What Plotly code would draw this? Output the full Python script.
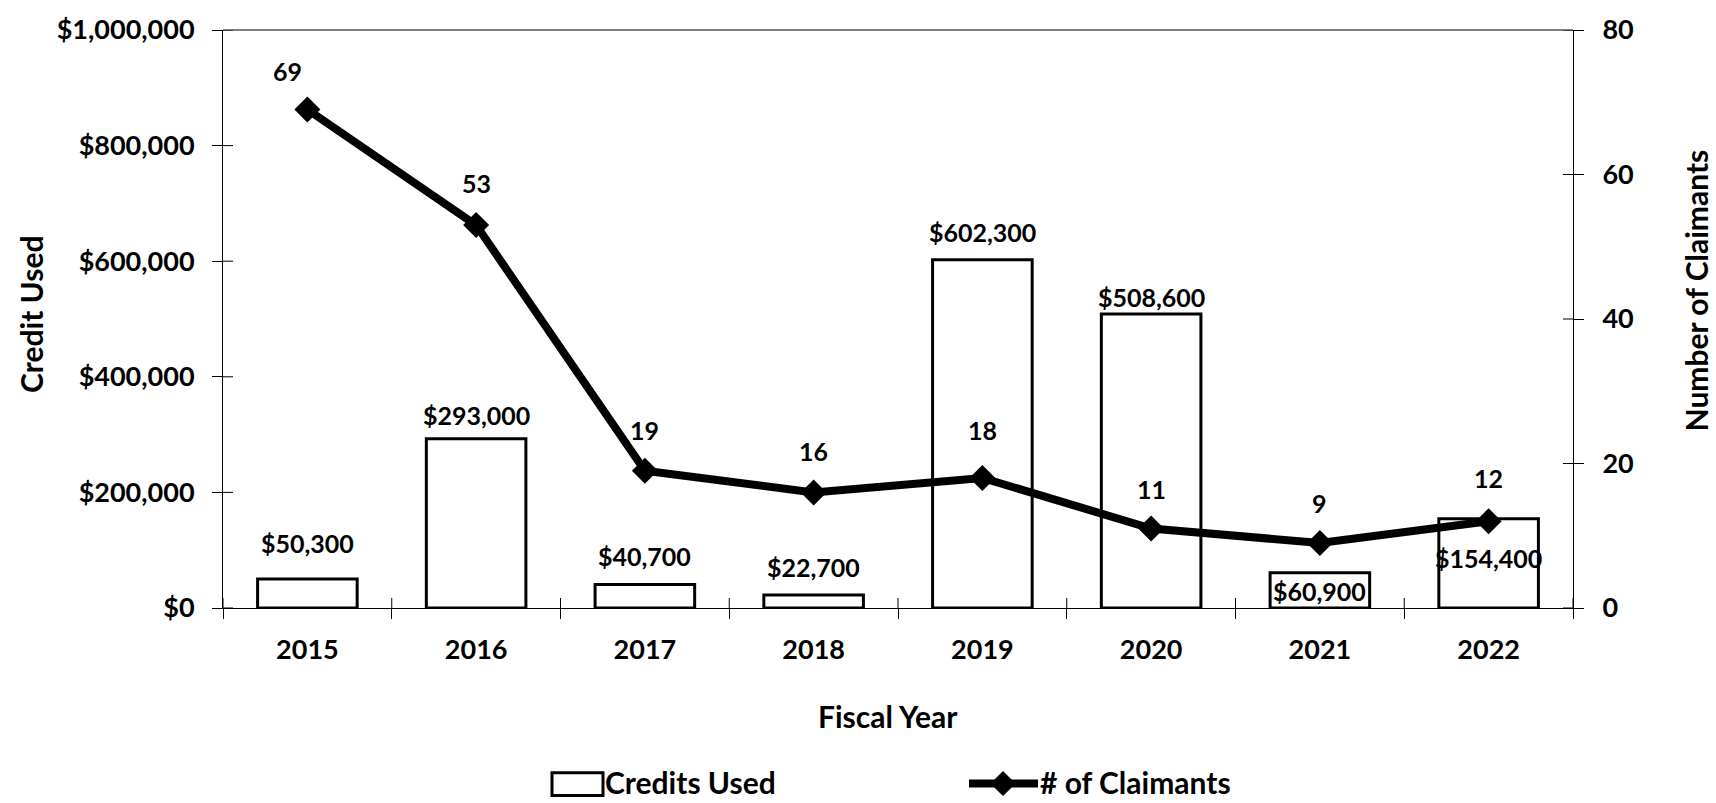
import plotly.graph_objects as go

# Fiscal-year data
years = ["2015", "2016", "2017", "2018", "2019", "2020", "2021", "2022"]
credits_used = [50300, 293000, 40700, 22700, 602300, 508600, 60900, 154400]
claimants = [69, 53, 19, 16, 18, 11, 9, 12]

credit_ticks = [0, 200000, 400000, 600000, 800000, 1000000]
credit_tick_text = ["$0", "$200,000", "$400,000", "$600,000", "$800,000", "$1,000,000"]
claimant_ticks = [0, 20, 40, 60, 80]

# label placement tweaks (pixels above the data point)
credit_label_shift = [36, 24, 28, 28, 28, 17, -18, -39]
claimant_label_shift = [38, 42, 41, 41, 48, 40, 40, 43]
claimant_label_xshift = [-20, 0, 0, 0, 0, 0, 0, 0]

FONT = "Lato"
BLACK = "#000000"

fig = go.Figure()

fig.add_trace(go.Bar(
    x=years, y=credits_used, name="Credits Used",
    width=0.59,
    marker=dict(color="white", line=dict(color=BLACK, width=3)),
    showlegend=False, yaxis="y",
))

fig.add_trace(go.Scatter(
    x=years, y=claimants, name="# of Claimants",
    mode="lines+markers",
    line=dict(color=BLACK, width=8),
    marker=dict(symbol="diamond", size=20, color=BLACK),
    showlegend=False, yaxis="y2",
))

label_font = dict(family=FONT, size=25, color=BLACK, weight="bold")
annotations = []
for i, (v, dy) in enumerate(zip(credits_used, credit_label_shift)):
    annotations.append(dict(
        x=i, y=v, xref="x", yref="y", text=f"${v:,}", showarrow=False,
        yshift=dy, yanchor="middle", font=label_font,
    ))
for i, (v, dy, dx) in enumerate(zip(claimants, claimant_label_shift, claimant_label_xshift)):
    annotations.append(dict(
        x=i, y=v, xref="x", yref="y2", text=str(v), showarrow=False,
        yshift=dy, xshift=dx, yanchor="middle", font=label_font,
    ))


def px_x(p):
    return (p - 223) / 1350


def px_y(p):
    return (608 - p) / 586


title_font = dict(family=FONT, size=30, color=BLACK, weight="bold")
annotations += [
    dict(text="Credit Used", textangle=-90, x=px_x(31), y=px_y(310),
         xref="paper", yref="paper", showarrow=False, font=title_font,
         xanchor="center", yanchor="middle"),
    dict(text="Number of Claimants", textangle=-90, x=px_x(1696),
         y=px_y(286), xref="paper", yref="paper", showarrow=False,
         font=title_font, xanchor="center", yanchor="middle"),
    dict(text="Fiscal Year", x=px_x(888), y=px_y(718),
         xref="paper", yref="paper", showarrow=False, font=title_font,
         xanchor="center", yanchor="middle"),
]

# legend drawn by hand
legend_font = dict(family=FONT, size=30, color=BLACK, weight="bold")
annotations += [
    dict(text="Credits Used", x=px_x(604), y=px_y(784), xref="paper", yref="paper",
         showarrow=False, xanchor="left", yanchor="middle", font=legend_font,
         borderpad=0),
    dict(text="# of Claimants", x=px_x(1039), y=px_y(784), xref="paper", yref="paper",
         showarrow=False, xanchor="left", yanchor="middle", font=legend_font,
         borderpad=0),
]

shapes = [
    # top border of plot area
    dict(type="line", xref="paper", yref="paper", x0=0, x1=1, y0=1, y1=1,
         line=dict(color="#808080", width=2), layer="above"),
    # legend swatches
    dict(type="rect", xref="paper", yref="paper", x0=px_x(552), x1=px_x(603),
         y0=px_y(798), y1=px_y(775), line=dict(color=BLACK, width=3),
         fillcolor="white"),
    dict(type="line", xref="paper", yref="paper", x0=px_x(969), x1=px_x(1038),
         y0=px_y(786), y1=px_y(786), line=dict(color=BLACK, width=8)),
    dict(type="path", xref="paper", yref="paper", xsizemode="pixel",
         ysizemode="pixel", xanchor=px_x(1003), yanchor=px_y(786),
         path="M -12 0 L 0 12 L 12 0 L 0 -12 Z", fillcolor=BLACK,
         line=dict(color=BLACK, width=1)),
]

# inner halves of the crossing tick marks
for t in credit_ticks:
    shapes.append(dict(type="line", xref="paper", yref="y", xsizemode="pixel",
                       xanchor=0, x0=0, x1=10, y0=t, y1=t,
                       line=dict(color=BLACK, width=1)))
for t in claimant_ticks:
    shapes.append(dict(type="line", xref="paper", yref="y2", xsizemode="pixel",
                       xanchor=1, x0=-10, x1=0, y0=t, y1=t,
                       line=dict(color=BLACK, width=1)))
for i in range(len(years) + 1):
    b = i - 0.5
    shapes.append(dict(type="line", xref="x", yref="paper", ysizemode="pixel",
                       yanchor=0, y0=0, y1=10, x0=b, x1=b,
                       line=dict(color=BLACK, width=1)))

tick_font = dict(family=FONT, size=27, color=BLACK, weight="bold")

fig.update_layout(
    width=1716, height=803,
    margin=dict(l=223, r=143, t=22, b=195),
    paper_bgcolor="white", plot_bgcolor="white",
    showlegend=False,
    annotations=annotations,
    shapes=shapes,
    xaxis=dict(
        type="category", range=[-0.5, 7.5], tickson="boundaries",
        ticks="outside", ticklen=10, tickcolor=BLACK, tickwidth=1,
        showline=True, linecolor=BLACK, linewidth=1,
        showgrid=False, zeroline=False, tickfont=tick_font,
        ticklabelstandoff=18,
    ),
    yaxis=dict(
        range=[0, 1000000], tickvals=credit_ticks, ticktext=credit_tick_text,
        ticks="outside", ticklen=10, tickcolor=BLACK,
        showline=True, linecolor=BLACK, linewidth=1, showgrid=False,
        zeroline=False, tickfont=tick_font, ticklabelstandoff=12,
    ),
    yaxis2=dict(
        range=[0, 80], tickvals=claimant_ticks, overlaying="y", side="right",
        ticks="outside", ticklen=10, tickcolor=BLACK,
        showline=True, linecolor=BLACK, linewidth=1, showgrid=False,
        zeroline=False, tickfont=tick_font, ticklabelstandoff=13,
    ),
)

fig.write_html("out.html")
